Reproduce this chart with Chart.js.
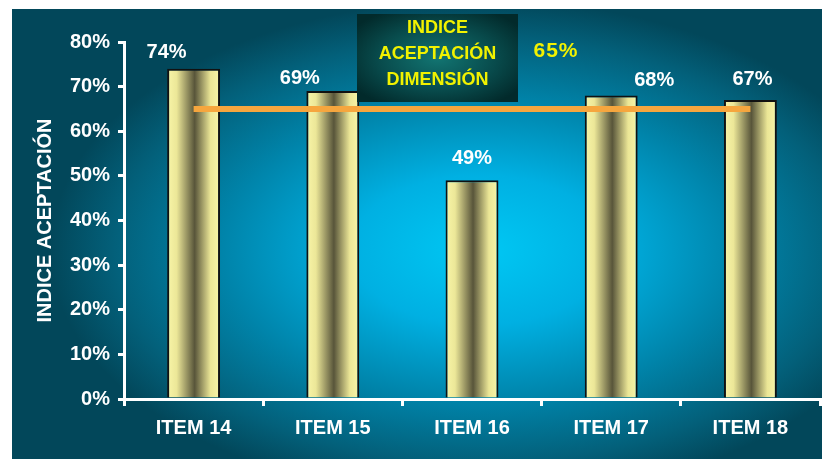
<!DOCTYPE html>
<html>
<head>
<meta charset="utf-8">
<script src="https://cdn.jsdelivr.net/npm/chart.js@4"></script>
<style>
  html, body { margin: 0; padding: 0; background: #fff; }
  #wrap { width: 822px; height: 459px; }
</style>
</head>
<body>
<div id="wrap"><canvas id="aceptChart" width="822" height="459"></canvas></div>
<script>
const items = ["ITEM 14", "ITEM 15", "ITEM 16", "ITEM 17", "ITEM 18"];
const aceptacion = [74, 69, 49, 68, 67];
const indiceDimension = 65;
const yTicks = [0, 10, 20, 30, 40, 50, 60, 70, 80];

const FONT = "'Liberation Sans', Arial, sans-serif";

// panel background with the bright cyan glow in the middle
const panelBg = {
  id: "panelBg",
  beforeDraw(chart) {
    const ctx = chart.ctx;
    const x0 = 12, y0 = 9, w = 822 - x0, h = 459 - y0;
    const cx = 480, cy = 250, rx = 430, ry = 250;
    ctx.save();
    ctx.translate(cx, cy);
    ctx.scale(1, ry / rx);
    const g = ctx.createRadialGradient(0, 0, 0, 0, 0, rx);
    g.addColorStop(0, "#00c8f4");
    g.addColorStop(0.3, "#00b0e2");
    g.addColorStop(0.6, "#0084aa");
    g.addColorStop(0.85, "#03607a");
    g.addColorStop(1, "#02475a");
    ctx.fillStyle = g;
    ctx.fillRect(x0 - cx, (y0 - cy) * rx / ry, w, h * rx / ry);
    ctx.restore();
  }
};

// cylinder shading on every bar (each bar gets its own options copy,
// the resolved options object is shared between the elements)
const barShade = {
  id: "barShade",
  beforeDatasetsDraw(chart) {
    const ctx = chart.ctx;
    chart.getDatasetMeta(0).data.forEach(bar => {
      const left = bar.x - bar.width / 2;
      const g = ctx.createLinearGradient(left, 0, left + bar.width, 0);
      g.addColorStop(0, "#f8f5a8");
      g.addColorStop(0.18, "#ece798");
      g.addColorStop(0.52, "#58553a");
      g.addColorStop(0.82, "#ebe696");
      g.addColorStop(1, "#f8f5a8");
      bar.options = { ...bar.options, backgroundColor: g };
    });
  }
};

// percentage labels over the bars
const valueLabels = {
  id: "valueLabels",
  afterDatasetsDraw(chart, args, opts) {
    const ctx = chart.ctx;
    ctx.save();
    ctx.font = "bold 20px " + FONT;
    ctx.fillStyle = "#ffffff";
    ctx.textAlign = "center";
    ctx.textBaseline = "alphabetic";
    chart.getDatasetMeta(0).data.forEach((bar, i) => {
      const s = opts.shift[i] || [0, -12];
      ctx.fillText(aceptacion[i] + "%", bar.x + s[0], bar.y + s[1]);
    });
    ctx.restore();
  }
};

// boxed caption with the dimension index
const indiceBox = {
  id: "indiceBox",
  afterDraw(chart) {
    const ctx = chart.ctx;
    const bx = 357, by = 14, bw = 161, bh = 88;
    ctx.save();
    ctx.translate(bx + bw / 2, by + bh / 2);
    ctx.scale(1, bh / bw);
    const g = ctx.createRadialGradient(0, 0, 0, 0, 0, bw * 0.62);
    g.addColorStop(0, "#127572");
    g.addColorStop(0.6, "#084a4b");
    g.addColorStop(1, "#022a2b");
    ctx.fillStyle = g;
    ctx.fillRect(-bw / 2, -bw / 2, bw, bw);
    ctx.restore();

    ctx.save();
    ctx.fillStyle = "#f2f200";
    ctx.textAlign = "center";
    ctx.font = "bold 18px " + FONT;
    ctx.fillText("INDICE", bx + bw / 2, 33);
    ctx.fillText("ACEPTACIÓN", bx + bw / 2, 59);
    ctx.fillText("DIMENSIÓN", bx + bw / 2, 85);
    ctx.font = "bold 21px " + FONT;
    ctx.letterSpacing = "1px";
    ctx.fillText(indiceDimension + "%", 556, 57);
    ctx.restore();
  }
};

const ctx = document.getElementById("aceptChart").getContext("2d");
const chart = new Chart(ctx, {
  type: "bar",
  data: {
    labels: items,
    datasets: [{
      type: "bar",
      data: aceptacion,
      backgroundColor: "#e8e39a",
      borderColor: "#111111",
      borderWidth: 2,
      borderSkipped: "bottom",
      barPercentage: 0.38,
      categoryPercentage: 1,
      order: 1
    }, {
      type: "line",
      data: items.map(() => indiceDimension),
      borderColor: "#f6a63e",
      borderWidth: 6,
      pointRadius: 0,
      fill: false,
      order: 0
    }]
  },
  options: {
    responsive: false,
    devicePixelRatio: 1,
    animation: false,
    layout: { padding: { left: 0, right: 2, top: 42, bottom: 0 } },
    plugins: {
      legend: { display: false },
      tooltip: { enabled: false },
      valueLabels: {
        shift: [[-27, -11], [-33, -7], [0, -16], [43, -10], [2, -15]]
      }
    },
    scales: {
      x: {
        afterFit: s => { s.height = 60; },
        grid: {
          display: true,
          drawOnChartArea: false,
          drawTicks: true,
          tickLength: 7,
          color: "#ffffff",
          lineWidth: 3
        },
        border: { display: true, color: "#ffffff", width: 3 },
        ticks: {
          color: "#ffffff",
          padding: 10,
          font: { family: FONT, size: 20, weight: "bold" }
        }
      },
      y: {
        min: 0,
        max: 80,
        afterFit: s => { s.width = 124; },
        afterBuildTicks: s => { s.ticks = yTicks.map(v => ({ value: v })); },
        grid: {
          display: true,
          drawOnChartArea: false,
          drawTicks: true,
          tickLength: 6,
          color: "#ffffff",
          lineWidth: 3
        },
        border: { display: true, color: "#ffffff", width: 3 },
        ticks: {
          color: "#ffffff",
          padding: 8,
          font: { family: FONT, size: 20, weight: "bold" },
          callback: v => v + "%"
        },
        title: {
          display: true,
          text: "INDICE ACEPTACIÓN",
          color: "#ffffff",
          padding: { top: 33, bottom: 0 },
          font: { family: FONT, size: 20, weight: "bold" }
        }
      }
    }
  },
  plugins: [panelBg, barShade, valueLabels, indiceBox]
});
</script>
</body>
</html>
